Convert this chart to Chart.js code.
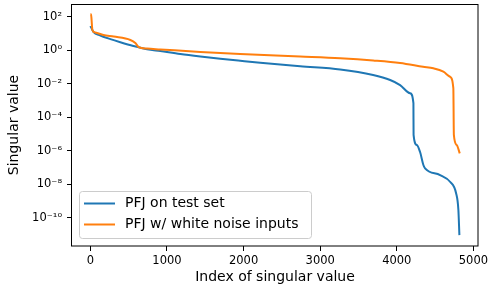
<!DOCTYPE html>
<html>
<head>
<meta charset="utf-8">
<script src="https://cdn.jsdelivr.net/npm/chart.js@4.4.0/dist/chart.umd.min.js"></script>
<style>
    body { margin: 0; background: #fff; }
    #wrap { width: 488px; height: 286px; }
</style>
</head>
<body>
<div id="wrap"><canvas id="myChart" width="488" height="286"></canvas></div>
<script>
// values (index of singular value, singular value)
const testIdx = [0, 20, 39, 130, 261, 391, 561, 740, 913, 1174, 1435, 1696, 1956, 2217, 2739, 3261, 3691, 3913, 4043, 4174, 4217, 4219, 4261, 4304, 4347, 4369, 4565, 4695, 4774, 4804, 4817];
const testVal = [27.5, 18.6, 12.3, 7.6, 4.6, 3.0, 1.8, 1.15, 0.89, 0.59, 0.42, 0.31, 0.234, 0.178, 0.11, 0.071, 0.033, 0.0166, 0.0083, 0.0027, 7e-4, 8.7e-6, 2.2e-6, 8.3e-7, 1.4e-7, 8.9e-8, 3.5e-8, 1.4e-8, 2.9e-9, 2.9e-10, 9.1e-12];

const noiseIdx = [0, 9, 20, 26, 65, 170, 304, 522, 587, 630, 740, 913, 1435, 1956, 2739, 3261, 3691, 4043, 4343, 4477, 4608, 4695, 4738, 4745, 4782, 4822];
const noiseVal = [140, 138, 32, 16, 11.5, 8.1, 6.5, 4.1, 2.7, 1.55, 1.26, 1.12, 0.78, 0.59, 0.42, 0.33, 0.245, 0.174, 0.103, 0.083, 0.052, 0.026, 0.0054, 8.7e-6, 2.2e-6, 6.9e-7];

const seriesNames = ['PFJ on test set', 'PFJ w/ white noise inputs'];
const seriesColors = ['#1f77b4', '#ff7f0e'];
const xTicks = [0, 1000, 2000, 3000, 4000, 5000];
const yTicks = [1e-10, 1e-8, 1e-6, 1e-4, 1e-2, 1, 1e2];

const FONT = 'DejaVu Sans';
Chart.defaults.color = '#000';
Chart.defaults.font.family = FONT;

function points(xs, ys) {
    return xs.map(function(x, i) { return {x: x, y: ys[i]}; });
}

function powLabel(v) {
    const sup = {'-': '\u207B', '0': '\u2070', '1': '\u00B9', '2': '\u00B2', '3': '\u00B3',
        '4': '\u2074', '5': '\u2075', '6': '\u2076', '7': '\u2077', '8': '\u2078', '9': '\u2079'};
    const e = String(Math.round(Math.log10(v)));
    return '10' + e.split('').map(function(c) { return sup[c]; }).join('');
}

const framePlugin = {
    id: 'frame',
    afterDraw(chart) {
        const c = chart.ctx;
        const a = chart.chartArea;
        c.save();
        c.strokeStyle = '#000';
        c.lineWidth = 1;
        c.strokeRect(Math.round(a.left) - 0.5, Math.round(a.top) + 0.5,
            Math.round(a.right - a.left) + 0.5, Math.round(a.bottom - a.top) - 0.5);

        // legend, lower left inside the axes
        const bx = a.left + 7.5, by = a.bottom - 54.5, bw = 232, bh = 47;
        c.beginPath();
        c.roundRect(bx, by, bw, bh, 3);
        c.fillStyle = 'rgba(255,255,255,0.8)';
        c.fill();
        c.strokeStyle = '#cccccc';
        c.stroke();
        c.font = '14px "' + FONT + '"';
        c.textBaseline = 'middle';
        c.lineWidth = 2;
        for (let i = 0; i < seriesNames.length; i++) {
            const y = by + 12 + i * 21;
            c.strokeStyle = seriesColors[i];
            c.beginPath();
            c.moveTo(bx + 4.5, y);
            c.lineTo(bx + 35.5, y);
            c.stroke();
            c.fillStyle = '#000';
            c.fillText(seriesNames[i], bx + 45.5, y);
        }
        c.restore();
    }
};

const ctx = document.getElementById('myChart').getContext('2d');
const myChart = new Chart(ctx, {
    type: 'line',
    data: {
        datasets: [{
            label: seriesNames[0],
            data: points(testIdx, testVal),
            borderColor: seriesColors[0],
            borderWidth: 2,
            pointRadius: 0,
            cubicInterpolationMode: 'monotone',
            order: 2
        }, {
            label: seriesNames[1],
            data: points(noiseIdx, noiseVal),
            borderColor: seriesColors[1],
            borderWidth: 2,
            pointRadius: 0,
            cubicInterpolationMode: 'monotone',
            order: 1
        }]
    },
    options: {
        responsive: false,
        animation: false,
        layout: { padding: { left: 0, right: 10, top: 4, bottom: 0 } },
        plugins: {
            legend: { display: false },
            tooltip: { enabled: false }
        },
        scales: {
            x: {
                type: 'linear',
                min: -240,
                max: 5060,
                afterBuildTicks: function(scale) {
                    scale.ticks = xTicks.map(function(v) { return {value: v}; });
                },
                afterFit: function(scale) {
                    scale.height = 40;
                    scale.paddingLeft = 0;
                    scale.paddingRight = 0;
                },
                grid: { drawOnChartArea: false, drawTicks: true, tickLength: 5, color: '#000' },
                border: { display: false },
                ticks: {
                    font: { size: 11.5 },
                    padding: 3,
                    maxRotation: 0,
                    callback: function(v) { return String(v); }
                },
                title: {
                    display: true,
                    text: 'Index of singular value',
                    font: { size: 14 },
                    padding: { top: 0, bottom: 0 }
                }
            },
            y: {
                type: 'logarithmic',
                min: 2.04e-12,
                max: 575,
                afterBuildTicks: function(scale) {
                    scale.ticks = yTicks.map(function(v) { return {value: v}; });
                },
                afterFit: function(scale) {
                    scale.width = 72;
                    scale.paddingTop = 0;
                    scale.paddingBottom = 0;
                },
                grid: { drawOnChartArea: false, drawTicks: true, tickLength: 5, color: '#000' },
                border: { display: false },
                ticks: {
                    font: { size: 11.5 },
                    padding: 5,
                    callback: function(v) { return powLabel(v); }
                },
                title: {
                    display: true,
                    text: 'Singular value',
                    font: { size: 14 },
                    padding: { top: 6, bottom: 0 }
                }
            }
        }
    },
    plugins: [framePlugin]
});
</script>
</body>
</html>
